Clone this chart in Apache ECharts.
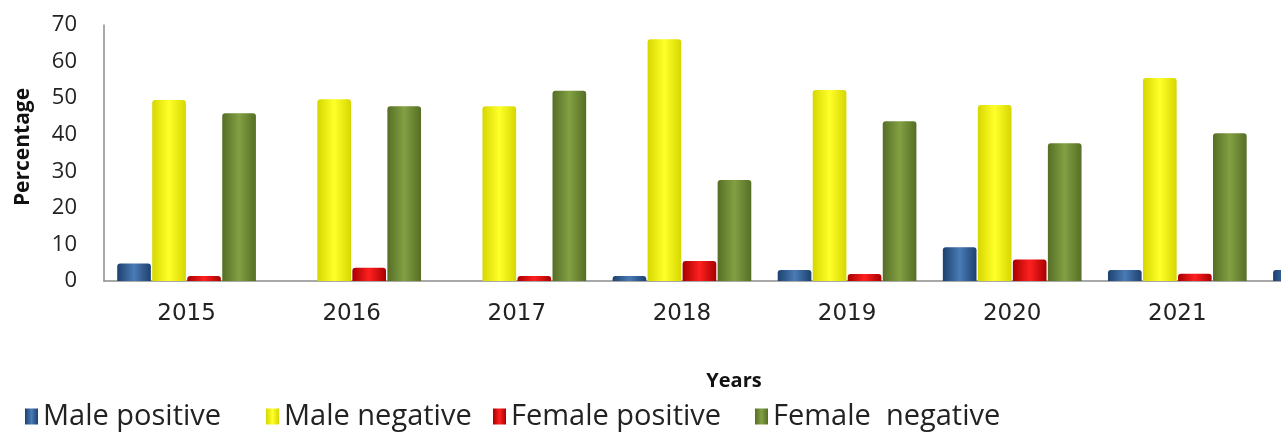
<!DOCTYPE html>
<html>
<head>
<meta charset="utf-8">
<script src="https://cdn.jsdelivr.net/npm/echarts@6/dist/echarts.min.js"></script>
<style>
html,body{margin:0;padding:0;background:#fff;}
#chart{width:1281px;height:434px;}
</style>
</head>
<body>
<div id="chart"></div>
<script>
const years = ['2015','2016','2017','2018','2019','2020','2021','2022'];
const malePositive   = [4.8, 0, 0, 1.4, 3.0, 9.2, 3.0, 3.0];
const maleNegative   = [49.5, 49.7, 47.8, 66.1, 52.2, 48.1, 55.5, null];
const femalePositive = [1.4, 3.6, 1.4, 5.5, 1.9, 5.9, 2.0, null];
const femaleNegative = [45.9, 47.8, 52.0, 27.6, 43.7, 37.7, 40.4, null];
const seriesNames = ['Male positive', 'Male negative', 'Female positive', 'Female  negative'];
const yTicks = [0, 10, 20, 30, 40, 50, 60, 70];

const palettes = [
  ['#1d416f', '#4a7bb5', '#1d416f'],
  ['#d6d600', '#ffff2a', '#d6d600'],
  ['#a80000', '#ff2020', '#a80000'],
  ['#566e26', '#82a043', '#566e26']
];
function grad(p) {
  return new echarts.graphic.LinearGradient(0, 0, 1, 0, [
    {offset: 0, color: p[0]}, {offset: 0.5, color: p[1]}, {offset: 1, color: p[2]}
  ]);
}
const dataSets = [malePositive, maleNegative, femalePositive, femaleNegative];
const chart = echarts.init(document.getElementById('chart'));
const font = '"Open Sans", Lato, sans-serif';
const wideFont = '"DejaVu Sans", "Open Sans", sans-serif';
const legendLefts = [25, 266, 493, 755];

chart.setOption({
  animation: false,
  grid: {left: 104, top: 25, width: 1321, height: 256, containLabel: false, outerBoundsMode: 'none'},
  xAxis: {
    type: 'category',
    data: years,
    axisLine: {lineStyle: {color: '#8c8c8c', width: 1.5}},
    axisTick: {length: 8, lineStyle: {color: '#8c8c8c'}},
    axisLabel: {color: '#222', fontSize: 23, fontFamily: wideFont, margin: 22}
  },
  yAxis: {
    type: 'value',
    min: yTicks[0], max: yTicks[yTicks.length - 1], interval: 10,
    axisLine: {show: true, lineStyle: {color: '#8c8c8c', width: 1.5}},
    axisTick: {show: false},
    splitLine: {show: false},
    axisLabel: {color: '#222', fontSize: 22, fontFamily: font, margin: 27}
  },
  legend: seriesNames.map((n, i) => ({
    data: [n], left: legendLefts[i], top: 402, padding: 0,
    itemWidth: 13, itemHeight: 16, itemGap: 0,
    textStyle: {fontSize: 29, fontFamily: font, color: '#222'},
    icon: 'rect'
  })),
  graphic: [
    {type: 'text', x: 734, y: 381, style: {text: 'Years', font: 'bold 20px ' + font, fill: '#111', textAlign: 'center', textVerticalAlign: 'middle'}},
    {type: 'text', x: 23, y: 147, rotation: Math.PI / 2, style: {text: 'Percentage', font: 'bold 21px ' + font, fill: '#111', textAlign: 'center', textVerticalAlign: 'middle'}}
  ],
  series: seriesNames.map((n, i) => ({
    name: n,
    type: 'bar',
    data: dataSets[i],
    barGap: '4%',
    barCategoryGap: '16%',
    itemStyle: {color: grad(palettes[i]), borderRadius: [3,3,0,0]}
  }))
});
</script>
</body>
</html>
